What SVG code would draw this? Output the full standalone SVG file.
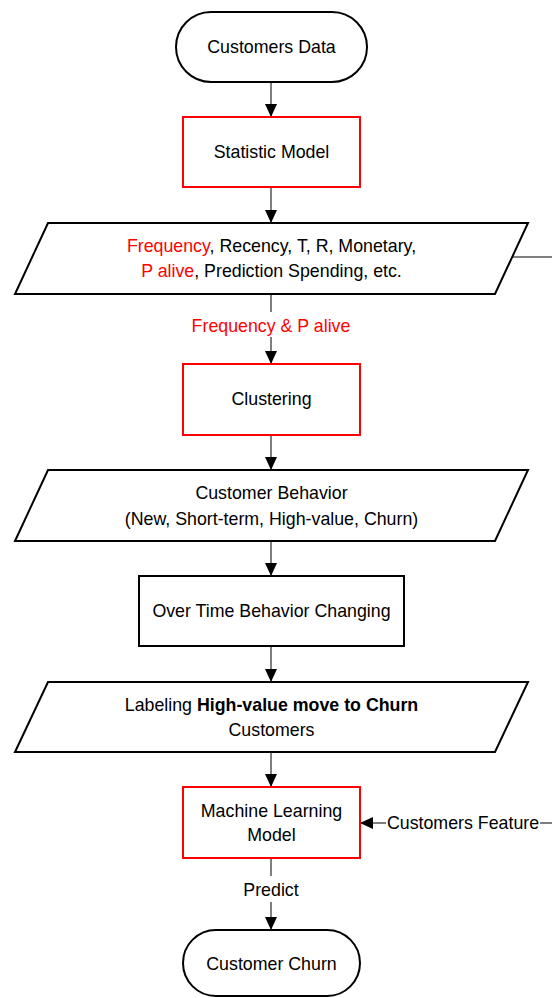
<svg xmlns="http://www.w3.org/2000/svg" width="552" height="998" viewBox="0 0 552 998">
<style>
text{font-family:"Liberation Sans",Arial,sans-serif;font-size:17.8px;fill:#000;text-anchor:middle}
.red{fill:#ff0000}
.b{font-weight:bold}
.box{fill:#fff;stroke:#000;stroke-width:2}
.rbox{fill:#fff;stroke:#ff0000;stroke-width:2}
.con{fill:none;stroke:#000;stroke-width:1}
</style>
<defs>
<marker id="ah" markerUnits="userSpaceOnUse" markerWidth="14" markerHeight="14" viewBox="0 0 14 14" refX="13" refY="7" orient="auto">
<path d="M0,1 L13,7 L0,13 Z" fill="#000"/>
</marker>
</defs>
<rect width="552" height="998" fill="#fff"/>
<g id="connectors">
<line class="con" x1="271" y1="82" x2="271" y2="117" marker-end="url(#ah)"/>
<line class="con" x1="271" y1="187" x2="271" y2="223" marker-end="url(#ah)"/>
<line class="con" x1="271" y1="294" x2="271" y2="312"/>
<line class="con" x1="271" y1="337" x2="271" y2="364" marker-end="url(#ah)"/>
<line class="con" x1="271" y1="435" x2="271" y2="470" marker-end="url(#ah)"/>
<line class="con" x1="271" y1="541" x2="271" y2="576" marker-end="url(#ah)"/>
<line class="con" x1="271" y1="646" x2="271" y2="682" marker-end="url(#ah)"/>
<line class="con" x1="271" y1="752" x2="271" y2="787" marker-end="url(#ah)"/>
<line class="con" x1="271" y1="858" x2="271" y2="876"/>
<line class="con" x1="271" y1="902" x2="271" y2="930" marker-end="url(#ah)"/>
<line class="con" x1="511" y1="257" x2="552" y2="257"/>
<line class="con" x1="540" y1="823" x2="552" y2="823"/>
<line class="con" x1="386" y1="823" x2="360" y2="823" marker-end="url(#ah)"/>
<text x="271" y="332" class="red">Frequency &amp; P alive</text>
<text x="271" y="896">Predict</text>
<text x="463" y="829">Customers Feature</text>
</g>
<g id="customers-data">
<rect class="box" x="176" y="12" width="191" height="70" rx="35"/>
<text x="271.5" y="53">Customers Data</text>
</g>
<g id="statistic-model">
<rect class="rbox" x="183" y="117" width="177" height="70"/>
<text x="271.5" y="158">Statistic Model</text>
</g>
<g id="features">
<polygon class="box" points="48,223 528,223 495,294 15,294"/>
<text x="271.5" y="252"><tspan class="red">Frequency</tspan>, Recency, T, R, Monetary,</text>
<text x="271.5" y="277"><tspan class="red">P alive</tspan>, Prediction Spending, etc.</text>
</g>
<g id="clustering">
<rect class="rbox" x="183" y="364" width="177" height="71"/>
<text x="271.5" y="405">Clustering</text>
</g>
<g id="customer-behavior">
<polygon class="box" points="48,470 528,470 495,541 15,541"/>
<text x="271.5" y="499">Customer Behavior</text>
<text x="271.5" y="525">(New, Short-term, High-value, Churn)</text>
</g>
<g id="over-time">
<rect class="box" x="139" y="576" width="265" height="70"/>
<text x="271.5" y="617">Over Time Behavior Changing</text>
</g>
<g id="labeling">
<polygon class="box" points="48,682 528,682 495,752 15,752"/>
<text x="271.5" y="711">Labeling <tspan class="b">High-value move to Churn</tspan></text>
<text x="271.5" y="736">Customers</text>
</g>
<g id="ml-model">
<rect class="rbox" x="183" y="787" width="177" height="71"/>
<text x="271.5" y="817">Machine Learning</text>
<text x="271.5" y="841">Model</text>
</g>
<g id="customer-churn">
<rect class="box" x="183" y="930" width="177" height="66" rx="33"/>
<text x="271.5" y="970">Customer Churn</text>
</g>
</svg>
